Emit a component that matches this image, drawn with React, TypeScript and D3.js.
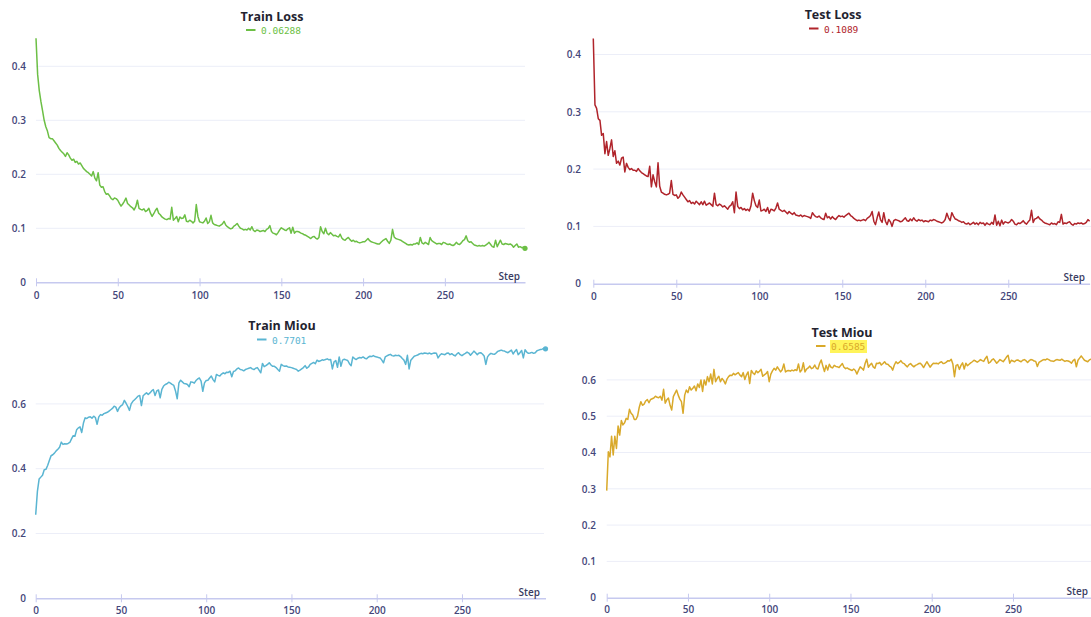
import React, { useEffect, useRef } from 'react'
import * as d3 from 'd3'

// values per step, index = step
const trainLoss = [
  0.452, 0.385, 0.355, 0.335, 0.318, 0.300, 0.288, 0.280, 0.268, 0.266,
  0.266, 0.262, 0.258, 0.254, 0.248, 0.244, 0.241, 0.238, 0.233, 0.240,
  0.236, 0.230, 0.226, 0.228, 0.222, 0.224, 0.219, 0.221, 0.216, 0.211,
  0.208, 0.205, 0.203, 0.200, 0.197, 0.205, 0.193, 0.188, 0.203, 0.180,
  0.176, 0.177, 0.168, 0.163, 0.164, 0.160, 0.155, 0.153, 0.156, 0.155,
  0.152, 0.146, 0.141, 0.145, 0.150, 0.156, 0.146, 0.143, 0.140, 0.138,
  0.134, 0.140, 0.152, 0.137, 0.135, 0.134, 0.136, 0.131, 0.133, 0.137,
  0.128, 0.122, 0.127, 0.133, 0.137, 0.128, 0.125, 0.121, 0.119, 0.117,
  0.116, 0.118, 0.117, 0.139, 0.115, 0.118, 0.122, 0.112, 0.121, 0.118,
  0.119, 0.125, 0.113, 0.112, 0.115, 0.113, 0.110, 0.113, 0.144, 0.122,
  0.112, 0.111, 0.110, 0.113, 0.119, 0.109, 0.112, 0.124, 0.110, 0.107,
  0.106, 0.105, 0.104, 0.106, 0.108, 0.113, 0.106, 0.103, 0.101, 0.099,
  0.100, 0.104, 0.106, 0.109, 0.104, 0.100, 0.099, 0.097, 0.098, 0.097,
  0.100, 0.097, 0.103, 0.096, 0.094, 0.097, 0.096, 0.094, 0.095, 0.096,
  0.094, 0.098, 0.100, 0.105, 0.094, 0.091, 0.090, 0.088, 0.092, 0.097,
  0.101, 0.099, 0.097, 0.096, 0.099, 0.101, 0.091, 0.102, 0.091, 0.094,
  0.094, 0.093, 0.091, 0.090, 0.088, 0.087, 0.085, 0.083, 0.081, 0.084,
  0.085, 0.082, 0.080, 0.083, 0.103, 0.094, 0.090, 0.100, 0.091, 0.088,
  0.092, 0.089, 0.086, 0.087, 0.085, 0.084, 0.089, 0.082, 0.079, 0.078,
  0.081, 0.083, 0.079, 0.076, 0.078, 0.075, 0.076, 0.074, 0.073, 0.074,
  0.075, 0.075, 0.078, 0.081, 0.077, 0.075, 0.074, 0.073, 0.072, 0.071,
  0.071, 0.074, 0.077, 0.079, 0.081, 0.076, 0.072, 0.078, 0.098, 0.084,
  0.081, 0.080, 0.079, 0.078, 0.076, 0.074, 0.072, 0.070, 0.069, 0.070,
  0.069, 0.071, 0.071, 0.073, 0.070, 0.083, 0.073, 0.071, 0.074, 0.072,
  0.070, 0.083, 0.077, 0.075, 0.073, 0.071, 0.072, 0.072, 0.070, 0.074,
  0.073, 0.071, 0.070, 0.071, 0.069, 0.068, 0.070, 0.074, 0.071, 0.070,
  0.073, 0.077, 0.079, 0.086, 0.077, 0.074, 0.075, 0.072, 0.069, 0.068,
  0.067, 0.068, 0.067, 0.068, 0.067, 0.069, 0.071, 0.074, 0.070, 0.066,
  0.065, 0.078, 0.066, 0.072, 0.078, 0.071, 0.070, 0.072, 0.071, 0.070,
  0.071, 0.069, 0.065, 0.068, 0.071, 0.065, 0.066, 0.064, 0.065, 0.063
]

const testLoss = [
  0.428, 0.312, 0.306, 0.288, 0.285, 0.259, 0.262, 0.227, 0.248, 0.224,
  0.236, 0.251, 0.222, 0.232, 0.210, 0.214, 0.207, 0.219, 0.221, 0.195,
  0.210, 0.203, 0.199, 0.201, 0.198, 0.198, 0.196, 0.201, 0.197, 0.194,
  0.192, 0.190, 0.188, 0.187, 0.205, 0.169, 0.190, 0.178, 0.169, 0.211,
  0.170, 0.160, 0.158, 0.156, 0.155, 0.156, 0.158, 0.180, 0.156, 0.154,
  0.155, 0.149, 0.152, 0.160, 0.155, 0.151, 0.147, 0.143, 0.145, 0.140,
  0.142, 0.139, 0.144, 0.141, 0.138, 0.143, 0.138, 0.144, 0.137, 0.139,
  0.141, 0.138, 0.135, 0.158, 0.138, 0.136, 0.139, 0.137, 0.134, 0.136,
  0.133, 0.130, 0.135, 0.137, 0.143, 0.124, 0.160, 0.135, 0.131, 0.133,
  0.129, 0.131, 0.128, 0.130, 0.127, 0.136, 0.158, 0.145, 0.136, 0.133,
  0.146, 0.127, 0.128, 0.130, 0.126, 0.133, 0.123, 0.130, 0.129, 0.127,
  0.132, 0.141, 0.130, 0.128, 0.126, 0.128, 0.125, 0.122, 0.126, 0.123,
  0.121, 0.124, 0.120, 0.119, 0.118, 0.120, 0.117, 0.119, 0.118, 0.117,
  0.116, 0.114, 0.124, 0.120, 0.117, 0.116, 0.118, 0.115, 0.113, 0.112,
  0.123, 0.115, 0.117, 0.113, 0.117, 0.114, 0.112, 0.116, 0.119, 0.117,
  0.118, 0.116, 0.119, 0.121, 0.123, 0.119, 0.117, 0.114, 0.112, 0.110,
  0.111, 0.110, 0.111, 0.112, 0.110, 0.114, 0.116, 0.119, 0.126, 0.109,
  0.103, 0.115, 0.125, 0.112, 0.107, 0.124, 0.109, 0.103, 0.112, 0.108,
  0.100, 0.110, 0.112, 0.111, 0.110, 0.108, 0.109, 0.112, 0.115, 0.110,
  0.109, 0.113, 0.110, 0.115, 0.111, 0.109, 0.112, 0.110, 0.111, 0.108,
  0.110, 0.109, 0.108, 0.111, 0.110, 0.112, 0.111, 0.109, 0.108, 0.107,
  0.106, 0.108, 0.112, 0.123, 0.115, 0.110, 0.124, 0.118, 0.113, 0.112,
  0.110, 0.109, 0.107, 0.108, 0.105, 0.104, 0.106, 0.103, 0.105, 0.107,
  0.104, 0.106, 0.103, 0.107, 0.105, 0.106, 0.102, 0.106, 0.104, 0.103,
  0.107, 0.104, 0.120, 0.102, 0.109, 0.101, 0.111, 0.104, 0.108, 0.107,
  0.106, 0.108, 0.112, 0.109, 0.104, 0.103, 0.106, 0.105, 0.107, 0.110,
  0.106, 0.104, 0.108, 0.111, 0.128, 0.107, 0.113, 0.114, 0.117, 0.113,
  0.111, 0.108, 0.106, 0.105, 0.104, 0.103, 0.106, 0.104, 0.105, 0.103,
  0.108, 0.107, 0.121, 0.104, 0.106, 0.105, 0.107, 0.108, 0.104, 0.102,
  0.105, 0.104, 0.106, 0.105, 0.106, 0.104, 0.105, 0.107, 0.112, 0.109
]

const trainMiou = [
  0.258, 0.330, 0.368, 0.374, 0.380, 0.397, 0.398, 0.410, 0.425, 0.440,
  0.443, 0.448, 0.455, 0.460, 0.466, 0.482, 0.475, 0.477, 0.476, 0.478,
  0.481, 0.492, 0.502, 0.500, 0.520, 0.526, 0.529, 0.512, 0.541, 0.557,
  0.555, 0.559, 0.560, 0.556, 0.562, 0.558, 0.537, 0.560, 0.567, 0.565,
  0.570, 0.572, 0.574, 0.578, 0.582, 0.586, 0.593, 0.590, 0.577, 0.588,
  0.594, 0.598, 0.611, 0.602, 0.592, 0.580, 0.600, 0.608, 0.613, 0.618,
  0.624, 0.626, 0.595, 0.625, 0.630, 0.634, 0.629, 0.634, 0.640, 0.644,
  0.626, 0.640, 0.643, 0.619, 0.645, 0.655, 0.660, 0.662, 0.667, 0.664,
  0.660, 0.657, 0.640, 0.616, 0.665, 0.673, 0.668, 0.663, 0.662, 0.660,
  0.653, 0.668, 0.667, 0.664, 0.672, 0.677, 0.680, 0.670, 0.639, 0.665,
  0.672, 0.673, 0.680, 0.686, 0.675, 0.668, 0.691, 0.688, 0.686, 0.692,
  0.696, 0.693, 0.698, 0.697, 0.701, 0.684, 0.700, 0.702, 0.708, 0.711,
  0.706, 0.705, 0.702, 0.706, 0.708, 0.710, 0.712, 0.708, 0.706, 0.710,
  0.712, 0.704, 0.696, 0.725, 0.715, 0.718, 0.722, 0.727, 0.720, 0.716,
  0.716, 0.712, 0.706, 0.701, 0.722, 0.718, 0.716, 0.717, 0.714, 0.713,
  0.712, 0.710, 0.708, 0.706, 0.701, 0.704, 0.708, 0.712, 0.718, 0.710,
  0.714, 0.722, 0.725, 0.728, 0.724, 0.735, 0.731, 0.733, 0.736, 0.735,
  0.737, 0.739, 0.736, 0.737, 0.708, 0.730, 0.734, 0.713, 0.745, 0.716,
  0.735, 0.738, 0.736, 0.734, 0.724, 0.718, 0.745, 0.740, 0.737, 0.741,
  0.743, 0.742, 0.745, 0.741, 0.739, 0.744, 0.747, 0.746, 0.749, 0.746,
  0.745, 0.743, 0.742, 0.735, 0.727, 0.745, 0.748, 0.751, 0.753, 0.749,
  0.748, 0.750, 0.749, 0.750, 0.746, 0.740, 0.735, 0.722, 0.750, 0.708,
  0.735, 0.741, 0.747, 0.749, 0.751, 0.754, 0.756, 0.755, 0.757, 0.756,
  0.755, 0.757, 0.754, 0.756, 0.757, 0.756, 0.742, 0.750, 0.755, 0.753,
  0.752, 0.756, 0.757, 0.752, 0.755, 0.751, 0.748, 0.754, 0.758, 0.752,
  0.749, 0.753, 0.756, 0.760, 0.757, 0.750, 0.756, 0.763, 0.758, 0.752,
  0.757, 0.758, 0.754, 0.748, 0.722, 0.745, 0.752, 0.756, 0.754, 0.753,
  0.757, 0.762, 0.764, 0.766, 0.764, 0.763, 0.760, 0.758, 0.762, 0.766,
  0.754, 0.762, 0.768, 0.752, 0.758, 0.765, 0.742, 0.767, 0.760, 0.756,
  0.757, 0.759, 0.756, 0.758, 0.764, 0.766, 0.768, 0.769, 0.771, 0.7701
]

const testMiou = [
  0.295, 0.402, 0.388, 0.445, 0.393, 0.445, 0.411, 0.473, 0.448, 0.488,
  0.476, 0.482, 0.494, 0.491, 0.519, 0.508, 0.503, 0.491, 0.491, 0.500,
  0.524, 0.540, 0.530, 0.533, 0.542, 0.546, 0.537, 0.546, 0.548, 0.550,
  0.555, 0.552, 0.551, 0.555, 0.544, 0.574, 0.536, 0.545, 0.550, 0.530,
  0.517, 0.554, 0.563, 0.572, 0.558, 0.547, 0.540, 0.508, 0.558, 0.572,
  0.565, 0.581, 0.572, 0.577, 0.583, 0.570, 0.589, 0.579, 0.600, 0.568,
  0.600, 0.586, 0.609, 0.595, 0.616, 0.589, 0.629, 0.595, 0.604, 0.610,
  0.595, 0.604, 0.598, 0.589, 0.602, 0.609, 0.613, 0.612, 0.618, 0.614,
  0.617, 0.620, 0.613, 0.609, 0.620, 0.601, 0.614, 0.622, 0.590, 0.626,
  0.619, 0.615, 0.625, 0.620, 0.624, 0.629, 0.610, 0.614, 0.617, 0.623,
  0.595, 0.616, 0.625, 0.632, 0.627, 0.636, 0.629, 0.622, 0.628, 0.644,
  0.622, 0.625, 0.626, 0.624, 0.627, 0.625, 0.628, 0.626, 0.644, 0.622,
  0.627, 0.647, 0.622, 0.630, 0.633, 0.638, 0.631, 0.633, 0.641, 0.632,
  0.630, 0.645, 0.655, 0.638, 0.623, 0.640, 0.627, 0.643, 0.635, 0.633,
  0.640, 0.637, 0.636, 0.634, 0.640, 0.645, 0.635, 0.631, 0.633, 0.630,
  0.628, 0.626, 0.630, 0.626, 0.616, 0.627, 0.636, 0.632, 0.627, 0.645,
  0.657, 0.635, 0.641, 0.646, 0.636, 0.632, 0.646, 0.645, 0.648, 0.641,
  0.645, 0.650, 0.644, 0.643, 0.638, 0.635, 0.627, 0.641, 0.650, 0.645,
  0.648, 0.653, 0.647, 0.645, 0.640, 0.636, 0.642, 0.645, 0.640, 0.636,
  0.640, 0.642, 0.645, 0.646, 0.641, 0.634, 0.642, 0.650, 0.643, 0.635,
  0.641, 0.646, 0.645, 0.646, 0.644, 0.648, 0.650, 0.645, 0.646, 0.649,
  0.653, 0.652, 0.657, 0.644, 0.609, 0.640, 0.642, 0.629, 0.640, 0.647,
  0.630, 0.646, 0.639, 0.643, 0.647, 0.650, 0.654, 0.652, 0.649, 0.652,
  0.656, 0.653, 0.651, 0.659, 0.665, 0.646, 0.649, 0.655, 0.658, 0.652,
  0.646, 0.651, 0.656, 0.653, 0.650, 0.656, 0.663, 0.668, 0.646, 0.654,
  0.652, 0.650, 0.654, 0.655, 0.652, 0.650, 0.654, 0.656, 0.653, 0.648,
  0.653, 0.656, 0.655, 0.652, 0.651, 0.637, 0.648, 0.651, 0.654, 0.656,
  0.655, 0.658, 0.656, 0.653, 0.652, 0.651, 0.654, 0.656, 0.655, 0.654,
  0.657, 0.654, 0.651, 0.653, 0.652, 0.650, 0.646, 0.653, 0.657, 0.636,
  0.654, 0.660, 0.666, 0.660, 0.654, 0.652, 0.650, 0.655, 0.657, 0.6585
]

const stepTicks = [0, 50, 100, 150, 200, 250]
const lossTicks = [0, 0.1, 0.2, 0.3, 0.4]
const trainMiouTicks = [0, 0.2, 0.4, 0.6]
const testMiouTicks = [0, 0.1, 0.2, 0.3, 0.4, 0.5, 0.6]

const titles = ['Train Loss', 'Test Loss', 'Train Miou', 'Test Miou']
const lastValues = ['0.06288', '0.1089', '0.7701', '0.6585']
const colors = ['#6cbf45', '#b0242b', '#5ab5d2', '#d9a92a']

// screen placement of each of the four captured panels
const layouts = [
  { x0: 36, x1: 525, y0: 282.3, yTop: 66.3, yMax: 0.4, labelX: 26, titleX: 272, titleY: 17,
    legendX: 246, legendY: 30, stepX: 520, stepY: 276, tickY: 295.5, gridEnd: 525, dot: true },
  { x0: 593.3, x1: 1089.6, y0: 283.7, yTop: 54.5, yMax: 0.4, labelX: 581, titleX: 833, titleY: 15,
    legendX: 809, legendY: 28.5, stepX: 1085, stepY: 277, tickY: 296.5, gridEnd: 1091, dot: false },
  { x0: 35.7, x1: 545.5, y0: 598.3, yTop: 339.1, yMax: 0.8, labelX: 26, titleX: 282, titleY: 326,
    legendX: 257, legendY: 339.5, stepX: 540, stepY: 592, tickY: 611, gridEnd: 544, dot: true },
  { x0: 606.7, x1: 1092.6, y0: 597.7, yTop: 379.9, yMax: 0.6, labelX: 596, titleX: 842, titleY: 333,
    legendX: 816, legendY: 346, stepX: 1088, stepY: 591.5, tickY: 610, gridEnd: 1091, dot: false, highlight: true }
]

const series = [trainLoss, testLoss, trainMiou, testMiou]
const yTickSets = [lossTicks, lossTicks, trainMiouTicks, testMiouTicks]

const FONT = '"Open Sans", "Noto Sans", sans-serif'
const MONO = '"DejaVu Sans Mono", monospace'

function App() {
  const svgRef = useRef(null)

  useEffect(() => {
    const svg = d3.select(svgRef.current)
    svg.selectAll('*').remove()

    layouts.forEach((L, k) => {
      const values = series[k]
      const g = svg.append('g')

      const x = d3.scaleLinear().domain([0, 299]).range([L.x0, L.x1])
      const y = d3.scaleLinear().domain([0, L.yMax]).range([L.y0, L.yTop])

      // grid
      g.append('g')
        .selectAll('line')
        .data(yTickSets[k].filter(t => t > 0))
        .join('line')
          .attr('x1', L.x0)
          .attr('x2', L.gridEnd)
          .attr('y1', d => y(d))
          .attr('y2', d => y(d))
          .attr('stroke', '#eceef8')
          .attr('stroke-width', 1)

      // y labels
      const yAxis = d3.axisLeft(y)
        .tickValues(yTickSets[k])
        .tickFormat(d => String(d))
        .tickSize(0)
        .tickPadding(L.x0 - L.labelX)
      g.append('g')
        .attr('transform', 'translate(' + L.x0 + ',0)')
        .call(yAxis)
        .call(a => a.select('.domain').remove())
        .call(a => a.selectAll('text')
          .attr('fill', '#44467a')
          .attr('font-family', FONT)
          .attr('font-size', 10)
          .attr('font-weight', 600))

      // x axis
      const xAxis = d3.axisBottom(x).tickValues(stepTicks).tickSizeOuter(0)
      g.append('g')
        .attr('transform', 'translate(0,' + L.y0 + ')')
        .call(xAxis)
        .call(a => a.select('.domain')
          .attr('stroke', '#c6c9ef')
          .attr('stroke-width', 1.6))
        .call(a => a.selectAll('.tick line')
          .attr('y1', -4)
          .attr('y2', 4)
          .attr('stroke', '#c6c9ef')
          .attr('stroke-width', 1))
        .call(a => a.selectAll('.tick text')
          .attr('y', L.tickY - L.y0)
          .attr('dy', '0.35em')
          .attr('fill', '#44467a')
          .attr('font-family', FONT)
          .attr('font-size', 10)
          .attr('font-weight', 600))

      g.append('text')
        .attr('x', L.stepX)
        .attr('y', L.stepY)
        .attr('dy', '0.35em')
        .attr('text-anchor', 'end')
        .attr('fill', '#3a3c62')
        .attr('font-family', FONT)
        .attr('font-size', 10)
        .attr('font-weight', 600)
        .text('Step')

      // line
      const line = d3.line().x((d, i) => x(i)).y(d => y(d))
      g.append('path')
        .datum(values)
        .attr('d', line)
        .attr('fill', 'none')
        .attr('stroke', colors[k])
        .attr('stroke-width', 1.5)
        .attr('stroke-linejoin', 'round')

      if (L.dot) {
        g.append('circle')
          .attr('cx', x(values.length - 1))
          .attr('cy', y(values[values.length - 1]))
          .attr('r', 2.6)
          .attr('fill', colors[k])
      }

      // title + legend
      g.append('text')
        .attr('x', L.titleX)
        .attr('y', L.titleY)
        .attr('dy', '0.35em')
        .attr('text-anchor', 'middle')
        .attr('fill', '#23232f')
        .attr('font-family', FONT)
        .attr('font-size', 12.5)
        .attr('font-weight', 700)
        .text(titles[k])

      g.append('line')
        .attr('x1', L.legendX)
        .attr('x2', L.legendX + 9.5)
        .attr('y1', L.legendY)
        .attr('y2', L.legendY)
        .attr('stroke', colors[k])
        .attr('stroke-width', 2)

      const tx = L.legendX + 15
      if (L.highlight) {
        g.append('rect')
          .attr('x', tx - 1)
          .attr('y', L.legendY - 6)
          .attr('width', 37)
          .attr('height', 13)
          .attr('fill', '#fff45a')
      }
      g.append('text')
        .attr('x', tx)
        .attr('y', L.legendY + 0.8)
        .attr('dy', '0.35em')
        .attr('fill', colors[k])
        .attr('font-family', MONO)
        .attr('font-size', 9.5)
        .text(lastValues[k])
    })
  }, [])

  return (
    <div style={{ position: 'absolute', left: 0, top: 0, background: '#fff' }}>
      <svg ref={svgRef} width={1091} height={617} style={{ display: 'block' }} />
    </div>
  )
}

export default App
